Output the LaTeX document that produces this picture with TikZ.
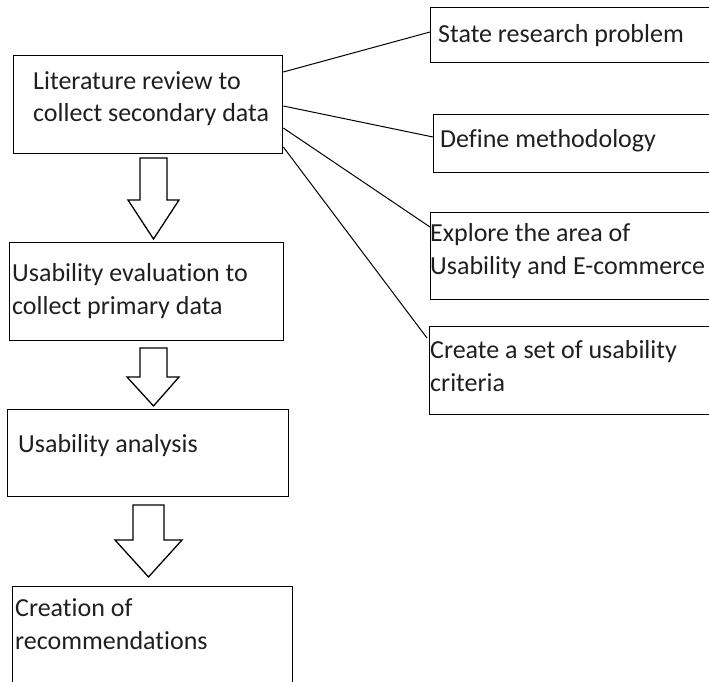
\documentclass[tikz,border=0pt]{standalone}
\usepackage{fontspec}
\setmainfont{Carlito}[Ligatures=NoCommon]
\begin{document}
\begin{tikzpicture}[x=1pt,y=-1pt,
  box/.style={draw=black, line width=1.3pt, inner sep=0pt, anchor=north west},
  boxtext/.style={anchor=base west, inner sep=0pt, align=left,
    font=\fontsize{26}{32.5}\selectfont, text=black!88},
  link/.style={draw=black, line width=1pt},
  blockarrow/.style={draw=black, line width=1.3pt, fill=white, line join=miter}]
\useasboundingbox (0,0) rectangle (709,682);
\clip (0,0) rectangle (709,682);

% main process column
\node[box, minimum width=269pt, minimum height=98pt] (lit)  at (13,55)  {};
\node[box, minimum width=274pt, minimum height=98pt] (usev) at (9,242)  {};
\node[box, minimum width=281pt, minimum height=87pt] (anal) at (7,409)  {};
\node[box, minimum width=280pt, minimum height=110pt] (reco) at (12,586) {};

% literature review outcomes
\node[box, minimum width=285pt, minimum height=55pt] (state) at (430,7)   {};
\node[box, minimum width=282pt, minimum height=58pt] (meth)  at (433,114) {};
\node[box, minimum width=285pt, minimum height=87pt] (expl)  at (430,212) {};
\node[box, minimum width=286pt, minimum height=88pt] (crit)  at (429,326) {};

% texts (base anchor sits on the last line)
\node[boxtext] (litT)   at (33,122)  {Literature review to\\collect secondary data};
\node[boxtext] (usevT)  at (12,314)  {Usability evaluation to\\collect primary data};
\node[boxtext] (analT)  at (18,452)  {Usability analysis};
\node[boxtext] (recoT)  at (15,649)  {Creation of\\recommendations};
\node[boxtext] (stateT) at (438,43)  {State research problem};
\node[boxtext] (methT)  at (440,147) {Define methodology};
\node[boxtext] (explT)  at (430,274) {Explore the area of\\Usability and E-commerce};
\node[boxtext] (critT)  at (430,391) {Create a set of usability\\criteria};

% connectors from the literature review box
\draw[link] ([yshift=-17pt]lit.north east) -- ([yshift=-25pt]state.north west);
\draw[link] ([yshift=-51pt]lit.north east) -- ([yshift=-23pt]meth.north west);
\draw[link] ([yshift=-73pt]lit.north east) -- ([yshift=-15pt]expl.north west);
\draw[link] ([yshift=-92pt]lit.north east) -- ([shift={(-2pt,-12pt)}]crit.north west);

% block arrows between the process steps
\draw[blockarrow] (140,158) -- (167,158) -- (167,200) -- (179,200) -- (153.5,239)
  -- (128,200) -- (140,200) -- cycle;
\draw[blockarrow] (140,348) -- (167,348) -- (167,377) -- (179,377) -- (153.5,406)
  -- (127,377) -- (140,377) -- cycle;
\draw[blockarrow] (133,505) -- (164,505) -- (164,540) -- (182,540) -- (148.5,577)
  -- (115,540) -- (133,540) -- cycle;
\end{tikzpicture}
\end{document}
